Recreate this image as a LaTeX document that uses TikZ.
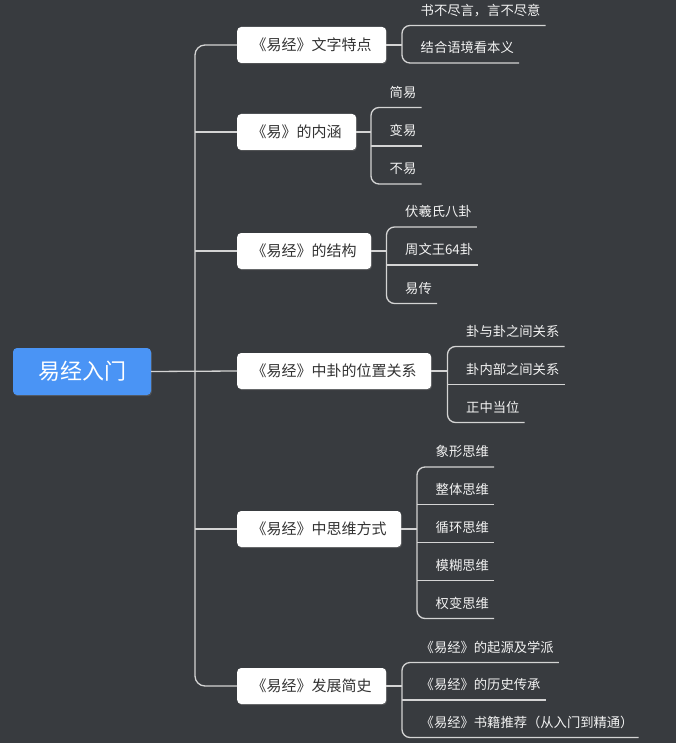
\documentclass[tikz,border=0pt]{standalone}
\usepackage{fontspec}
\setmainfont{Noto Sans CJK SC}
\usetikzlibrary{calc,shadows}
\definecolor{bg}{HTML}{383B3F}
\definecolor{ln}{HTML}{D4D4D4}
\definecolor{rootblue}{HTML}{4A94F5}
\definecolor{boxtext}{HTML}{333333}
\definecolor{leaftext}{HTML}{F2F2F2}
\tikzset{
  link/.style={draw=ln, line width=1.3pt},
  rootbox/.style={rectangle, rounded corners=4pt, fill=rootblue, text=white,
    minimum width=138pt, minimum height=47pt, font=\fontsize{22}{24}\selectfont,
    drop shadow={shadow xshift=0.8pt, shadow yshift=-1.2pt, opacity=0.35}},
  childbox/.style={rectangle, rounded corners=4pt, fill=white, text=boxtext,
    minimum height=36pt, inner xsep=14.5pt, anchor=west, font=\fontsize{15}{17}\selectfont,
    drop shadow={shadow xshift=0.8pt, shadow yshift=-1.2pt, opacity=0.35}},
  leaf/.style={rectangle, inner xsep=0pt, inner ysep=10pt, text depth=0pt, anchor=south west,
    text=leaftext, font=\fontsize{13.3}{15}\selectfont},
  mid/.style={append after command={(\tikzlastnode.south west) edge[link] (\tikzlastnode.south east)}}
}
\newcommand{\lf}[1]{\hspace*{18.5pt}#1\hspace*{5pt}}
\begin{document}
\begin{tikzpicture}[x=1pt,y=-1pt]
\fill[bg] (0,0) rectangle (676,743);
\useasboundingbox (0,0) rectangle (676,743);

\node[rootbox] (root) at (82,371.5) {易经入门};

\node[childbox] (c1) at (237,45) {《易经》文字特点};
\node[childbox] (c2) at (237,132) {《易》的内涵};
\node[childbox] (c3) at (237,251) {《易经》的结构};
\node[childbox] (c4) at (237,371) {《易经》中卦的位置关系};
\node[childbox] (c5) at (237,529) {《易经》中思维方式};
\node[childbox] (c6) at (237,686) {《易经》发展简史};

\coordinate (T) at (195,371);

% group 1
\node[leaf] (l11) at (402,25.5) {\lf{书不尽言，言不尽意}};
\node[leaf] (l12) at (402,63) {\lf{结合语境看本义}};
% group 2
\node[leaf] (l21) at (371,107.5) {\lf{简易}};
\node[leaf,mid] (l22) at (371,146) {\lf{变易}};
\node[leaf] (l23) at (371,184) {\lf{不易}};
% group 3
\node[leaf] (l31) at (386.5,227) {\lf{伏羲氏八卦}};
\node[leaf,mid] (l32) at (386.5,265) {\lf{周文王64卦}};
\node[leaf] (l33) at (386.5,303.5) {\lf{易传}};
% group 4
\node[leaf] (l41) at (447.5,346.5) {\lf{卦与卦之间关系}};
\node[leaf,mid] (l42) at (447.5,384.5) {\lf{卦内部之间关系}};
\node[leaf] (l43) at (447.5,422.5) {\lf{正中当位}};
% group 5
\node[leaf] (l51) at (417,467) {\lf{象形思维}};
\node[leaf,mid] (l52) at (417,504.5) {\lf{整体思维}};
\node[leaf,mid] (l53) at (417,542.5) {\lf{循环思维}};
\node[leaf,mid] (l54) at (417,580.5) {\lf{模糊思维}};
\node[leaf] (l55) at (417,618.5) {\lf{权变思维}};
% group 6
\node[leaf] (l61) at (402,662.5) {\lf{《易经》的起源及学派}};
\node[leaf,mid] (l62) at (402,700) {\lf{《易经》的历史传承}};
\node[leaf] (l63) at (402,737.5) {\lf{《易经》书籍推荐（从入门到精通）}};

\begin{scope}[on background layer/.style={}]
% trunk
\draw[link, rounded corners=10pt] (c1.west) -- (c1.west -| T) -- (c6.west -| T) -- (c6.west);
\draw[link] (c2.west -| T) -- (c2.west);
\draw[link] (c3.west -| T) -- (c3.west);
\draw[link] (c5.west -| T) -- (c5.west);
\draw[link] (root.east) -- (c4.west);

% brackets
\draw[link] (c1.east) -- (c1.east -| l11.south west);
\draw[link, rounded corners=8pt] (l11.south east) -- (l11.south west) -- (l12.south west) -- (l12.south east);
\draw[link] (c2.east) -- (c2.east -| l21.south west);
\draw[link, rounded corners=8pt] (l21.south east) -- (l21.south west) -- (l23.south west) -- (l23.south east);
\draw[link] (c3.east) -- (c3.east -| l31.south west);
\draw[link, rounded corners=8pt] (l31.south east) -- (l31.south west) -- (l33.south west) -- (l33.south east);
\draw[link] (c4.east) -- (c4.east -| l41.south west);
\draw[link, rounded corners=8pt] (l41.south east) -- (l41.south west) -- (l43.south west) -- (l43.south east);
\draw[link] (c5.east) -- (c5.east -| l51.south west);
\draw[link, rounded corners=8pt] (l51.south east) -- (l51.south west) -- (l55.south west) -- (l55.south east);
\draw[link] (c6.east) -- (c6.east -| l61.south west);
\draw[link, rounded corners=8pt] (l61.south east) -- (l61.south west) -- (l63.south west) -- (l63.south east);
\end{scope}
\end{tikzpicture}
\end{document}
